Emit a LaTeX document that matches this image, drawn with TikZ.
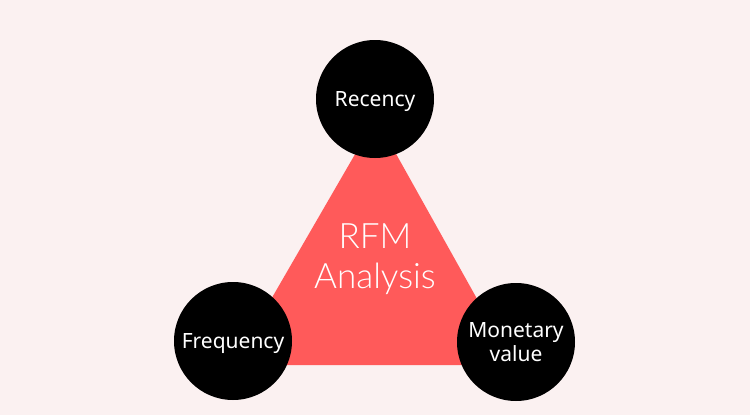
\documentclass[tikz,border=0pt]{standalone}
\usepackage{fontspec}
\setmainfont{Noto Sans}
\newfontfamily\titlefont{Lato Light}
\definecolor{bgpink}{HTML}{FBF1F1}
\definecolor{coral}{HTML}{FF5A5A}
\begin{document}
\begin{tikzpicture}[x=1pt,y=-1pt,
  bubble/.style={circle,fill=black,minimum size=118pt,inner sep=0pt,text=white,font=\fontsize{21}{24}\selectfont,align=center},
  title/.style={text=white,font=\titlefont\fontsize{35}{40}\selectfont,align=center}]
\fill[bgpink] (0,0) rectangle (750,415);
\useasboundingbox (0,0) rectangle (750,415);
\coordinate (apex) at (376,118);
\coordinate (bl) at (233,365);
\coordinate (br) at (514,365);
\fill[coral] (apex) -- (bl) -- (br) -- cycle;
\node[title] (rfm) at (375,259) {RFM\\Analysis};
\node[bubble] (rec) at (375,99) {\raisebox{-3pt}[\height][\depth]{Recency}};
\node[bubble] (freq) at (233,341) {\raisebox{-3pt}[\height][\depth]{Frequency}};
\node[bubble] (mon) at (516,342) {Monetary\\[-0.5pt]value};
\end{tikzpicture}
\end{document}
